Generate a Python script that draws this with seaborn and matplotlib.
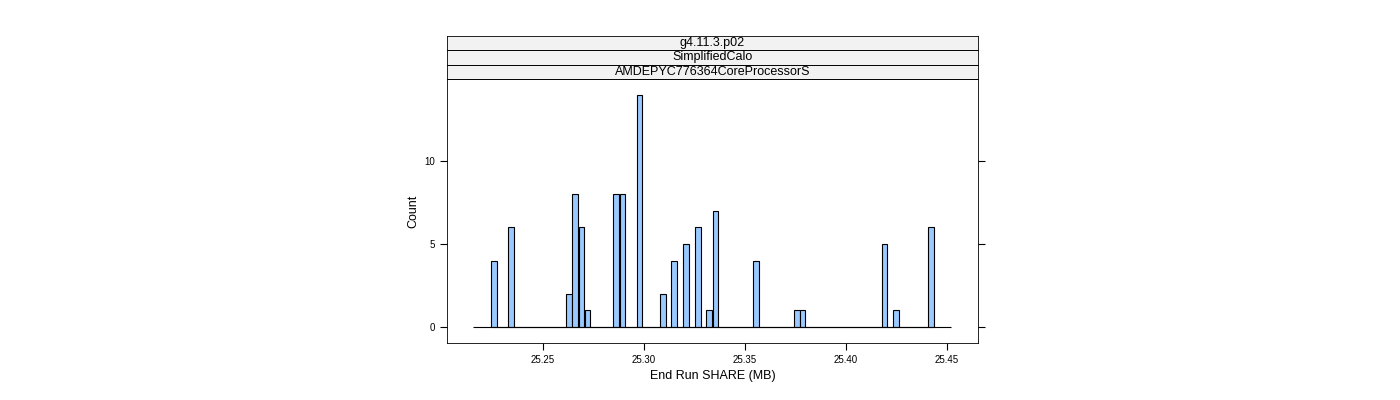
import numpy as np
import pandas as pd
import matplotlib
matplotlib.use("Agg")
import matplotlib.pyplot as plt
import seaborn as sns

centers = [25.2256, 25.2343, 25.2630, 25.2660, 25.2690, 25.2720, 25.2863, 25.2893,
           25.2977, 25.3093, 25.3150, 25.3208, 25.3266, 25.3323, 25.3353, 25.3554,
           25.3756, 25.3785, 25.4190, 25.4248, 25.4422]
counts = [4, 6, 2, 8, 6, 1, 8, 8, 14, 2, 4, 5, 6, 1, 7, 4, 1, 1, 5, 1, 6]
strips = ["g4.11.3.p02", "SimplifiedCalo", "AMDEPYC776364CoreProcessorS"]
xticks = [25.25, 25.30, 25.35, 25.40, 25.45]
yticks = [0, 5, 10]

plt.rcParams["font.family"] = "Liberation Sans"
fig = plt.figure(figsize=(14, 4), dpi=100)
ax = fig.add_axes([447/1400, 57/400, 531/1400, 264/400])

w = 0.0028
edges = np.unique(np.round(np.concatenate([np.array(centers) - w/2, np.array(centers) + w/2]), 5))
df = pd.DataFrame({"x": centers, "n": counts})
sns.histplot(data=df, x="x", weights="n", bins=[float(e) for e in edges], ax=ax,
             color="#99C9FF", edgecolor="black", linewidth=0.8, alpha=1)
ax.hlines(0, 25.2155, 25.452, color="black", linewidth=0.8)
ax.set_xlim(25.2025, 25.4653)
ax.set_ylim(-0.96, 14.94)
ax.set_xticks(xticks)
ax.set_xticklabels([f"{t:.2f}" for t in xticks])
ax.set_yticks(yticks)
ax.tick_params(axis="both", direction="out", labelsize=7, length=5, top=True, right=True,
               labeltop=False, labelright=False)
ax.set_xlabel("End Run SHARE (MB)", fontsize=9)
ax.set_ylabel("Count", fontsize=9)
for s in ax.spines.values():
    s.set_linewidth(0.6)

sh = 14.5/400
for i, txt in enumerate(strips[::-1]):
    sa = fig.add_axes([447/1400, (321/400) + i*sh, 531/1400, sh])
    sa.set_facecolor("#F2F2F2")
    sa.set_xticks([]); sa.set_yticks([])
    for s in sa.spines.values():
        s.set_linewidth(0.6)
    sa.text(0.5, 0.5, txt, ha="center", va="center", fontsize=9, transform=sa.transAxes)

fig.savefig("out.png", dpi=100)
